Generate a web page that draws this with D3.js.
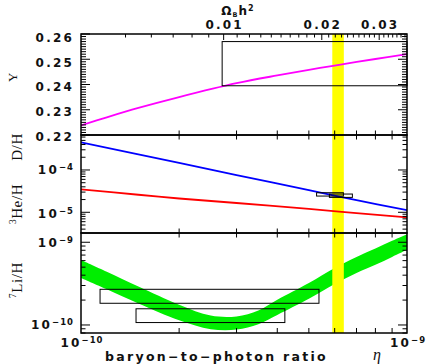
<!DOCTYPE html>
<html><head><meta charset="utf-8">
<script src="https://cdn.jsdelivr.net/npm/d3@7"></script>
<style>body{margin:0;background:#fff}svg{display:block}</style>
</head><body>
<svg id="c" width="426" height="364"></svg>
<script>
// ---- data (eta in units of 1e-10) ----
const etaY = [1, 1.2, 1.5, 2, 3, 4, 5, 6, 8, 10];
const heliumY = [0.2238, 0.2270, 0.2307, 0.2350, 0.2405, 0.2436, 0.2458, 0.2475, 0.2501, 0.2520];
const etaD = [1, 2, 3, 5, 7, 10];
const deuterium = [4.5e-4, 1.47e-4, 7.6e-5, 3.35e-5, 1.93e-5, 1.13e-5];
const etaHe3 = [1, 1.5, 2, 3, 5, 7, 10];
const helium3 = [3.5e-5, 2.6e-5, 2.12e-5, 1.66e-5, 1.2e-5, 9.6e-6, 7.6e-6];
const etaLi = [1, 1.2, 1.5, 2, 2.5, 3, 3.5, 4, 5, 6, 7, 8, 9, 10];
const lithiumHigh = [6.1e-10, 4.4e-10, 2.92e-10, 1.76e-10, 1.3e-10, 1.27e-10, 1.5e-10, 2.02e-10, 3.22e-10, 4.9e-10, 6.65e-10, 8.4e-10, 1.04e-9, 1.25e-9];
const lithiumLow = [3.7e-10, 2.7e-10, 1.82e-10, 1.14e-10, 0.89e-10, 0.88e-10, 1.02e-10, 1.32e-10, 2.07e-10, 3.12e-10, 4.25e-10, 5.35e-10, 6.65e-10, 8.1e-10];
const cmbEta = [5.9, 6.4];
const yBoxEta = [2.71, 10];
const yBoxVal = [0.2395, 0.257];
const dBoxEta = [[5.28, 6.38], [5.78, 6.80]];
const dBoxVal = [[2.42e-5, 2.9e-5], [2.25e-5, 2.70e-5]];
const liBoxEta = [[1.144, 5.37], [1.475, 4.22]];
const liBoxVal = [[1.83e-10, 2.70e-10], [1.07e-10, 1.57e-10]];
const yTickLabels = [0.22, 0.23, 0.24, 0.25, 0.26];
const omegaLabels = [0.01, 0.02, 0.03];
const omegaToEta = 273.9; // eta10 = 273.9 * Omega_b h^2

// ---- scales ----
const L = 81, R = 407;
const x = d3.scaleLog().domain([1e-10, 1e-9]).range([L, R]);
const yTop = d3.scaleLinear().domain([0.22, 0.26]).range([135, 34]);
const yMid = d3.scaleLog().domain([3.24e-6, 6.71e-4]).range([233, 135]);
const yBot = d3.scaleLog().domain([8.0e-11, 1.294e-9]).range([333, 233]);
const ex = e => x(e * 1e-10);

const svg = d3.select("#c");
const defs = svg.append("defs");
[["cTop", 34, 101], ["cMid", 135, 98], ["cBot", 233, 100]].forEach(([id, y, h]) => {
  defs.append("clipPath").attr("id", id).append("rect").attr("x", L).attr("y", y).attr("width", R - L).attr("height", h);
});

// green lithium band
const area = d3.area().x((d, i) => ex(etaLi[i])).y0((d, i) => yBot(lithiumLow[i])).y1((d, i) => yBot(lithiumHigh[i])).curve(d3.curveCatmullRom);
svg.append("path").attr("d", area(etaLi)).attr("fill", "#00ee00").attr("clip-path", "url(#cBot)");

// yellow CMB band
svg.append("rect").attr("x", ex(cmbEta[0])).attr("y", 34).attr("width", ex(cmbEta[1]) - ex(cmbEta[0])).attr("height", 333 - 34).attr("fill", "#ffff00");

// curves
function curve(etas, vals, ys, color, clip) {
  const line = d3.line().x((d, i) => ex(etas[i])).y((d, i) => ys(vals[i])).curve(d3.curveCatmullRom);
  svg.append("path").attr("d", line(etas)).attr("fill", "none").attr("stroke", color).attr("stroke-width", 1.8).attr("clip-path", clip);
}
curve(etaY, heliumY, yTop, "#ff00ff", "url(#cTop)");
curve(etaD, deuterium, yMid, "#0000ff", "url(#cMid)");
curve(etaHe3, helium3, yMid, "#ff0000", "url(#cMid)");

// boxes
function box(eta, val, ys) {
  const x0 = ex(eta[0]), x1 = ex(eta[1]), y0 = ys(val[1]), y1 = ys(val[0]);
  svg.append("rect").attr("x", x0).attr("y", y0).attr("width", x1 - x0).attr("height", y1 - y0)
    .attr("fill", "none").attr("stroke", "#000").attr("stroke-width", 1);
}
box(yBoxEta, yBoxVal, yTop);
dBoxEta.forEach((e, i) => box(e, dBoxVal[i], yMid));
liBoxEta.forEach((e, i) => box(e, liBoxVal[i], yBot));

// frames
[[34, 101], [135, 98], [233, 100]].forEach(([y, h]) => {
  svg.append("rect").attr("x", L).attr("y", y).attr("width", R - L).attr("height", h).attr("fill", "none").attr("stroke", "#000").attr("stroke-width", 1.5);
});

// ticks
const tk = svg.append("g").attr("stroke", "#000").attr("stroke-width", 1);
function yTicksDraw(ys, vals, len) {
  vals.forEach(v => {
    const y = ys(v);
    tk.append("line").attr("x1", L).attr("x2", L + len).attr("y1", y).attr("y2", y);
    tk.append("line").attr("x1", R).attr("x2", R - len).attr("y1", y).attr("y2", y);
  });
}
function xTicksDraw(vals, y, dir, len, fx) {
  vals.forEach(v => {
    const xx = fx(v);
    tk.append("line").attr("x1", xx).attr("x2", xx).attr("y1", y).attr("y2", y + dir * len);
  });
}
const minorY = d3.range(221, 260).map(v => v / 1000).filter(v => Math.round(v * 1000) % 10 !== 0);
yTicksDraw(yTop, minorY, 5);
yTicksDraw(yTop, yTickLabels, 9);
function logTicks(scale) {
  const [a, b] = scale.domain(), out = { major: [], minor: [] };
  for (let n = Math.floor(Math.log10(a)); n <= Math.ceil(Math.log10(b)); n++) {
    for (let k = 1; k <= 9; k++) {
      const v = k * Math.pow(10, n);
      if (v >= a && v <= b) (k === 1 ? out.major : out.minor).push(v);
    }
  }
  return out;
}
[yMid, yBot].forEach(s => { const t = logTicks(s); yTicksDraw(s, t.minor, 4.5); yTicksDraw(s, t.major, 9); });
const xMinor = [2, 3, 4, 5, 6, 7, 8, 9].map(k => k * 1e-10);
xTicksDraw(xMinor, 135, -1, 4.5, x);
xTicksDraw(xMinor, 135, 1, 4.5, x);
xTicksDraw(xMinor, 233, -1, 4.5, x);
xTicksDraw(xMinor, 233, 1, 4.5, x);
xTicksDraw(xMinor, 333, -1, 5, x);
const omMinor = d3.range(5, 37).map(v => v / 1000).filter(v => Math.round(v * 1000) % 10 !== 0);
const ox = o => x(o * omegaToEta * 1e-10);
xTicksDraw(omMinor, 34, 1, 3.5, ox);
xTicksDraw(omegaLabels, 34, 1, 6, ox);

// ---- text ----
const sans = "'DejaVu Sans', sans-serif", serif = "'Liberation Serif', 'DejaVu Serif', serif";
function num(t, xx, y, anchor) {
  return svg.append("text").attr("x", xx).attr("y", y).attr("text-anchor", anchor || "end")
    .attr("font-family", sans).attr("font-weight", "bold").attr("font-size", 12).attr("letter-spacing", 2.2).attr("fill", "#111").text(t);
}
yTickLabels.forEach(v => num(v.toFixed(2), 74, yTop(v) + 5.5 + (v - 0.22) * 60));
function pow10(e, xx, y, anchor) {
  const t = svg.append("text").attr("x", xx).attr("y", y).attr("text-anchor", anchor || "end")
    .attr("font-family", sans).attr("font-weight", "bold").attr("font-size", 12).attr("letter-spacing", 2.2).attr("fill", "#111");
  t.append("tspan").text("10");
  t.append("tspan").attr("dy", -4).attr("font-size", 8.5).attr("letter-spacing", 1).text("−" + e);
  return t;
}
pow10(4, 74, yMid(1e-4) + 4.5);
pow10(5, 74, yMid(1e-5) + 5.5);
pow10(9, 74, yBot(1e-9) + 5);
pow10(10, 74, yBot(1e-10) + 4.5);
pow10(10, 82, 347, "middle");
pow10(9, 408, 347, "middle");
omegaLabels.forEach(o => num(o.toFixed(2), ox(o) + 1, 28.5, "middle"));
const om = svg.append("text").attr("x", 238).attr("y", 15).attr("text-anchor", "middle")
  .attr("font-family", sans).attr("font-weight", "bold").attr("font-size", 12).attr("letter-spacing", 1).attr("fill", "#111");
om.append("tspan").text("Ω");
om.append("tspan").attr("dy", 2).attr("font-size", 6.5).text("B");
om.append("tspan").attr("dy", -2).text("h");
om.append("tspan").attr("dy", -4).attr("font-size", 8).text("2");

function ylab(parts, cx, cy, fs) {
  const t = svg.append("text").attr("transform", `translate(${cx},${cy}) rotate(-90)`).attr("text-anchor", "middle")
    .attr("font-family", serif).attr("font-size", fs).attr("letter-spacing", 0.6).attr("fill", "#111");
  parts.forEach(([s, sup]) => {
    const sp = t.append("tspan").text(s);
    if (sup === 1) sp.attr("font-size", fs * 0.62).attr("dy", -6);
    if (sup === 2) sp.attr("dy", 6);
  });
}
ylab([["Y"]], 17, 77, 13);
ylab([["D/H"]], 22, 147, 15);
ylab([["3", 1], ["He/H", 2]], 22, 204, 15);
ylab([["7", 1], ["Li/H", 2]], 22, 280, 15);

svg.append("text").attr("x", 105).attr("y", 361).attr("font-family", sans).attr("font-weight", "bold")
  .attr("font-size", 12.5).attr("letter-spacing", 2.3).attr("fill", "#111").text("baryon−to−photon ratio");
svg.append("text").attr("x", 373).attr("y", 360).attr("font-family", serif).attr("font-style", "italic")
  .attr("font-size", 16).attr("fill", "#111").text("η");
</script>
</body></html>
